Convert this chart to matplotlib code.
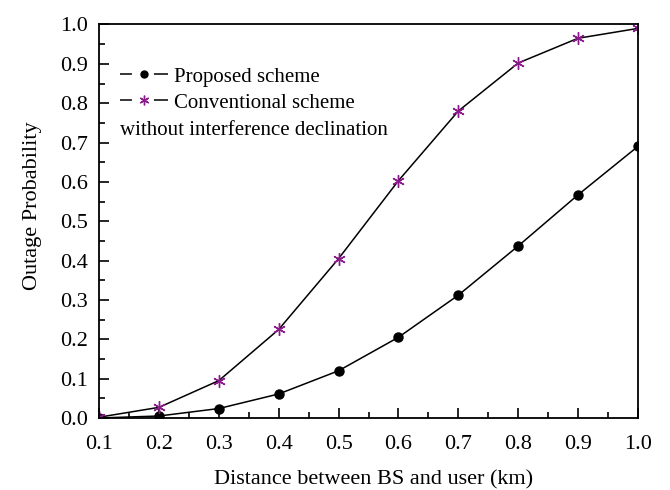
import matplotlib
matplotlib.use("Agg")
import matplotlib.pyplot as plt
from matplotlib.lines import Line2D
from matplotlib.ticker import MultipleLocator

# Distance between BS and user (km)
distance = [0.1, 0.2, 0.3, 0.4, 0.5, 0.6, 0.7, 0.8, 0.9, 1.0]

# Outage probability
proposed = [0.0, 0.005, 0.024, 0.061, 0.120, 0.205, 0.312, 0.437, 0.567, 0.690]
conventional = [0.002, 0.027, 0.095, 0.225, 0.405, 0.603, 0.780, 0.902, 0.965, 0.990]

plt.rcParams["font.family"] = ["Liberation Serif", "DejaVu Serif"]

purple = "#8B1A8B"
fig = plt.figure(figsize=(6.7, 4.9), dpi=100)
ax = fig.add_axes([0.148, 0.147, 0.804, 0.803])

# Proposed scheme
ax.plot(distance, proposed, color="black", linewidth=1.1,
        marker="o", markersize=6.5, markerfacecolor="black")

# Conventional scheme
ax.plot(distance, conventional, color="black", linewidth=1.1,
        marker=(6, 2, 0), markersize=9, markeredgecolor=purple,
        markeredgewidth=1.0)

ax.set_xlim(0.1, 1.0)
ax.set_ylim(0.0, 1.0)
ax.xaxis.set_major_locator(MultipleLocator(0.1))
ax.xaxis.set_minor_locator(MultipleLocator(0.05))
ax.yaxis.set_major_locator(MultipleLocator(0.1))
ax.yaxis.set_minor_locator(MultipleLocator(0.05))
ax.xaxis.set_major_formatter(plt.FormatStrFormatter("%.1f"))
ax.yaxis.set_major_formatter(plt.FormatStrFormatter("%.1f"))

ax.tick_params(which="both", direction="in", top=False, right=False,
               width=1.2, labelsize=16)
ax.tick_params(which="major", length=7)
ax.tick_params(which="minor", length=4)
ax.tick_params(axis="x", which="major", pad=12)
ax.tick_params(axis="y", which="major", pad=8)
for sp in ax.spines.values():
    sp.set_linewidth(1.3)

ax.set_xlabel("Distance between BS and user (km)", fontsize=16)
ax.set_ylabel("Outage Probability", fontsize=16)
ax.xaxis.set_label_coords(0.509, -0.132)
ax.yaxis.set_label_coords(-0.106, 0.539)

# Leyenda: línea cortada alrededor del marcador
dash = (7.8, 14.4, 9.5)
h1 = Line2D([], [], color="black", linewidth=1.1, dashes=dash,
            marker="o", markersize=5, markerfacecolor="black")
h2 = Line2D([], [], color="black", linewidth=1.1, dashes=dash,
            marker=(6, 2, 0), markersize=7, markeredgecolor=purple,
            markeredgewidth=1.0)
ax.legend([h1, h2], ["Proposed scheme", "Conventional scheme"],
          loc="center left", bbox_to_anchor=(0.039, 0.834), frameon=False,
          fontsize=15, handlelength=2.3, handletextpad=0.3,
          labelspacing=0.3, borderpad=0, borderaxespad=0)
ax.text(0.039, 0.730, "without interference declination",
        transform=ax.transAxes, fontsize=15, va="center", ha="left")

fig.savefig("out.png", dpi=100)
